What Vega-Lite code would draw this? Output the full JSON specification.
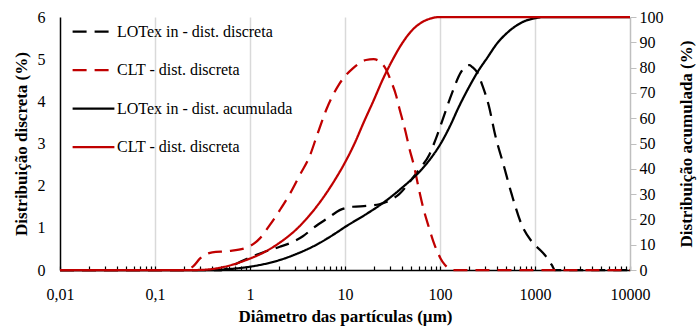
{
  "$schema": "https://vega.github.io/schema/vega-lite/v6.json",
  "width": 570,
  "height": 253,
  "autosize": {"type": "none"},
  "padding": {"left": 60, "top": 17, "right": 67, "bottom": 59},
  "background": "white",
  "config": {
    "view": {"stroke": null},
    "font": "Times New Roman, Liberation Serif, DejaVu Serif, serif",
    "axis": {
      "labelFont": "Times New Roman, Liberation Serif, DejaVu Serif, serif",
      "labelFontSize": 16,
      "labelColor": "black",
      "titleFont": "Times New Roman, Liberation Serif, DejaVu Serif, serif",
      "titleFontSize": 17,
      "titleFontWeight": "bold",
      "titleColor": "black"
    },
    "legend": {
      "labelFont": "Times New Roman, Liberation Serif, DejaVu Serif, serif"
    }
  },
  "datasets": {
    "discreta": [
      {"s": "LOTex in - dist. discreta", "d": 0.01, "v": 0},
      {"s": "LOTex in - dist. discreta", "d": 0.5, "v": 0},
      {"s": "LOTex in - dist. discreta", "d": 0.62, "v": 0.08},
      {"s": "LOTex in - dist. discreta", "d": 0.8, "v": 0.2},
      {"s": "LOTex in - dist. discreta", "d": 1.17, "v": 0.36},
      {"s": "LOTex in - dist. discreta", "d": 1.5, "v": 0.45},
      {"s": "LOTex in - dist. discreta", "d": 2.06, "v": 0.55},
      {"s": "LOTex in - dist. discreta", "d": 2.84, "v": 0.67},
      {"s": "LOTex in - dist. discreta", "d": 3.6, "v": 0.8},
      {"s": "LOTex in - dist. discreta", "d": 4.6, "v": 0.99},
      {"s": "LOTex in - dist. discreta", "d": 6.9, "v": 1.26},
      {"s": "LOTex in - dist. discreta", "d": 8.8, "v": 1.42},
      {"s": "LOTex in - dist. discreta", "d": 12.1, "v": 1.5},
      {"s": "LOTex in - dist. discreta", "d": 17, "v": 1.52},
      {"s": "LOTex in - dist. discreta", "d": 23, "v": 1.56},
      {"s": "LOTex in - dist. discreta", "d": 30, "v": 1.66},
      {"s": "LOTex in - dist. discreta", "d": 37.2, "v": 1.8},
      {"s": "LOTex in - dist. discreta", "d": 51, "v": 2.17},
      {"s": "LOTex in - dist. discreta", "d": 60, "v": 2.38},
      {"s": "LOTex in - dist. discreta", "d": 76.7, "v": 2.72},
      {"s": "LOTex in - dist. discreta", "d": 90, "v": 3.1},
      {"s": "LOTex in - dist. discreta", "d": 106, "v": 3.55},
      {"s": "LOTex in - dist. discreta", "d": 135, "v": 4.22},
      {"s": "LOTex in - dist. discreta", "d": 165, "v": 4.68},
      {"s": "LOTex in - dist. discreta", "d": 186, "v": 4.83},
      {"s": "LOTex in - dist. discreta", "d": 205, "v": 4.86},
      {"s": "LOTex in - dist. discreta", "d": 219, "v": 4.81},
      {"s": "LOTex in - dist. discreta", "d": 247, "v": 4.68},
      {"s": "LOTex in - dist. discreta", "d": 279, "v": 4.38},
      {"s": "LOTex in - dist. discreta", "d": 326, "v": 3.9},
      {"s": "LOTex in - dist. discreta", "d": 381, "v": 3.2},
      {"s": "LOTex in - dist. discreta", "d": 467, "v": 2.49},
      {"s": "LOTex in - dist. discreta", "d": 571, "v": 1.78},
      {"s": "LOTex in - dist. discreta", "d": 725, "v": 1.07},
      {"s": "LOTex in - dist. discreta", "d": 927, "v": 0.67},
      {"s": "LOTex in - dist. discreta", "d": 1175, "v": 0.44},
      {"s": "LOTex in - dist. discreta", "d": 1350, "v": 0.28},
      {"s": "LOTex in - dist. discreta", "d": 1500, "v": 0.12},
      {"s": "LOTex in - dist. discreta", "d": 1625, "v": 0},
      {"s": "LOTex in - dist. discreta", "d": 10000, "v": 0},
      {"s": "CLT - dist. discreta", "d": 0.01, "v": 0},
      {"s": "CLT - dist. discreta", "d": 0.2, "v": 0},
      {"s": "CLT - dist. discreta", "d": 0.25, "v": 0.08},
      {"s": "CLT - dist. discreta", "d": 0.3, "v": 0.28},
      {"s": "CLT - dist. discreta", "d": 0.35, "v": 0.38},
      {"s": "CLT - dist. discreta", "d": 0.4, "v": 0.42},
      {"s": "CLT - dist. discreta", "d": 0.6, "v": 0.45},
      {"s": "CLT - dist. discreta", "d": 0.92, "v": 0.53},
      {"s": "CLT - dist. discreta", "d": 1.27, "v": 0.75},
      {"s": "CLT - dist. discreta", "d": 1.62, "v": 1.07},
      {"s": "CLT - dist. discreta", "d": 2.06, "v": 1.42},
      {"s": "CLT - dist. discreta", "d": 2.62, "v": 1.8},
      {"s": "CLT - dist. discreta", "d": 3.34, "v": 2.25},
      {"s": "CLT - dist. discreta", "d": 4.25, "v": 2.7},
      {"s": "CLT - dist. discreta", "d": 5, "v": 3.15},
      {"s": "CLT - dist. discreta", "d": 6.35, "v": 3.8},
      {"s": "CLT - dist. discreta", "d": 8.76, "v": 4.42},
      {"s": "CLT - dist. discreta", "d": 12.1, "v": 4.78},
      {"s": "CLT - dist. discreta", "d": 16.6, "v": 4.98},
      {"s": "CLT - dist. discreta", "d": 20, "v": 5.0},
      {"s": "CLT - dist. discreta", "d": 23, "v": 4.95},
      {"s": "CLT - dist. discreta", "d": 27, "v": 4.76},
      {"s": "CLT - dist. discreta", "d": 30, "v": 4.52},
      {"s": "CLT - dist. discreta", "d": 34.4, "v": 4.15},
      {"s": "CLT - dist. discreta", "d": 37.2, "v": 3.85},
      {"s": "CLT - dist. discreta", "d": 43.7, "v": 3.25},
      {"s": "CLT - dist. discreta", "d": 47.4, "v": 2.9},
      {"s": "CLT - dist. discreta", "d": 53.5, "v": 2.45},
      {"s": "CLT - dist. discreta", "d": 60.2, "v": 1.9},
      {"s": "CLT - dist. discreta", "d": 67, "v": 1.45},
      {"s": "CLT - dist. discreta", "d": 76.7, "v": 1.0},
      {"s": "CLT - dist. discreta", "d": 85, "v": 0.68},
      {"s": "CLT - dist. discreta", "d": 93.5, "v": 0.44},
      {"s": "CLT - dist. discreta", "d": 101, "v": 0.28},
      {"s": "CLT - dist. discreta", "d": 110, "v": 0.15},
      {"s": "CLT - dist. discreta", "d": 120, "v": 0.06},
      {"s": "CLT - dist. discreta", "d": 135, "v": 0},
      {"s": "CLT - dist. discreta", "d": 10000, "v": 0}
    ],
    "acumulada": [
      {"s": "LOTex in - dist. acumulada", "d": 0.01, "v": 0},
      {"s": "LOTex in - dist. acumulada", "d": 0.5, "v": 0},
      {"s": "LOTex in - dist. acumulada", "d": 0.63, "v": 0.4},
      {"s": "LOTex in - dist. acumulada", "d": 1, "v": 1.3},
      {"s": "LOTex in - dist. acumulada", "d": 2, "v": 3.8},
      {"s": "LOTex in - dist. acumulada", "d": 3.16, "v": 6.5},
      {"s": "LOTex in - dist. acumulada", "d": 5.01, "v": 10},
      {"s": "LOTex in - dist. acumulada", "d": 7.94, "v": 14.5},
      {"s": "LOTex in - dist. acumulada", "d": 10, "v": 17},
      {"s": "LOTex in - dist. acumulada", "d": 15.8, "v": 21.5},
      {"s": "LOTex in - dist. acumulada", "d": 25.1, "v": 26.5},
      {"s": "LOTex in - dist. acumulada", "d": 39.8, "v": 32.5},
      {"s": "LOTex in - dist. acumulada", "d": 63.1, "v": 39.5},
      {"s": "LOTex in - dist. acumulada", "d": 79.4, "v": 44},
      {"s": "LOTex in - dist. acumulada", "d": 100, "v": 49.5},
      {"s": "LOTex in - dist. acumulada", "d": 126, "v": 56.5},
      {"s": "LOTex in - dist. acumulada", "d": 158, "v": 64.5},
      {"s": "LOTex in - dist. acumulada", "d": 200, "v": 72},
      {"s": "LOTex in - dist. acumulada", "d": 251, "v": 78.5},
      {"s": "LOTex in - dist. acumulada", "d": 316, "v": 84},
      {"s": "LOTex in - dist. acumulada", "d": 398, "v": 89.5},
      {"s": "LOTex in - dist. acumulada", "d": 501, "v": 93.5},
      {"s": "LOTex in - dist. acumulada", "d": 631, "v": 96.5},
      {"s": "LOTex in - dist. acumulada", "d": 794, "v": 98.5},
      {"s": "LOTex in - dist. acumulada", "d": 1000, "v": 99.5},
      {"s": "LOTex in - dist. acumulada", "d": 1259, "v": 100},
      {"s": "LOTex in - dist. acumulada", "d": 10000, "v": 100},
      {"s": "CLT - dist. acumulada", "d": 0.01, "v": 0},
      {"s": "CLT - dist. acumulada", "d": 0.28, "v": 0},
      {"s": "CLT - dist. acumulada", "d": 0.5, "v": 1},
      {"s": "CLT - dist. acumulada", "d": 0.92, "v": 4},
      {"s": "CLT - dist. acumulada", "d": 1.49, "v": 7.5},
      {"s": "CLT - dist. acumulada", "d": 2, "v": 10.5},
      {"s": "CLT - dist. acumulada", "d": 3.16, "v": 16.5},
      {"s": "CLT - dist. acumulada", "d": 5.01, "v": 25},
      {"s": "CLT - dist. acumulada", "d": 7.94, "v": 36},
      {"s": "CLT - dist. acumulada", "d": 10, "v": 42.5},
      {"s": "CLT - dist. acumulada", "d": 12.6, "v": 50},
      {"s": "CLT - dist. acumulada", "d": 15.8, "v": 58.5},
      {"s": "CLT - dist. acumulada", "d": 20, "v": 67},
      {"s": "CLT - dist. acumulada", "d": 25.1, "v": 75.5},
      {"s": "CLT - dist. acumulada", "d": 31.6, "v": 83},
      {"s": "CLT - dist. acumulada", "d": 39.8, "v": 89.5},
      {"s": "CLT - dist. acumulada", "d": 50.1, "v": 94.5},
      {"s": "CLT - dist. acumulada", "d": 63.1, "v": 97.7},
      {"s": "CLT - dist. acumulada", "d": 79.4, "v": 99.4},
      {"s": "CLT - dist. acumulada", "d": 100, "v": 100},
      {"s": "CLT - dist. acumulada", "d": 10000, "v": 100}
    ]
  },
  "encoding": {
    "x": {
      "field": "d",
      "type": "quantitative",
      "scale": {"type": "log", "domain": [0.01, 10000], "nice": false},
      "axis": {
        "title": "Diâmetro das partículas (µm)",
        "values": [0.01, 0.02, 0.03, 0.04, 0.05, 0.06, 0.07, 0.08, 0.09, 0.1, 0.2, 0.3, 0.4, 0.5, 0.6, 0.7, 0.8, 0.9, 1, 2, 3, 4, 5, 6, 7, 8, 9, 10, 20, 30, 40, 50, 60, 70, 80, 90, 100, 200, 300, 400, 500, 600, 700, 800, 900, 1000, 2000, 3000, 4000, 5000, 6000, 7000, 8000, 9000, 10000],
        "labelExpr": "abs(log(datum.value)/LN10 - round(log(datum.value)/LN10)) < 0.001 ? replace(format(datum.value, '~g'), '.', ',') : ''",
        "labelOverlap": false,
        "labelFlush": false,
        "labelPadding": 20,
        "grid": true,
        "gridColor": {"condition": {"test": "abs(log(datum.value)/LN10 - round(log(datum.value)/LN10)) < 0.001 && datum.value > 0.011 && datum.value < 9999", "value": "#d9d9d9"}, "value": "rgba(0,0,0,0)"},
        "gridWidth": 1.5,
        "tickSize": -4,
        "tickColor": "black",
        "tickWidth": 1.2,
        "domainColor": "black",
        "domainWidth": 1.5,
        "titlePadding": 6
      }
    }
  },
  "layer": [
    {
      "data": {"name": "discreta"},
      "mark": {"type": "line", "interpolate": "monotone", "strokeWidth": 2.25},
      "encoding": {
        "y": {
          "field": "v",
          "type": "quantitative",
          "scale": {"domain": [0, 6], "nice": false},
          "axis": {
            "title": "Distribuição discreta (%)",
            "orient": "left",
            "values": [0, 1, 2, 3, 4, 5, 6],
            "grid": false,
            "ticks": false,
            "tickSize": 0,
            "labelPadding": 15,
            "domainColor": "black",
            "domainWidth": 1.5,
            "titlePadding": 7
          }
        },
        "color": {
          "field": "s",
          "type": "nominal",
          "scale": {
            "domain": ["LOTex in - dist. discreta", "CLT - dist. discreta", "LOTex in - dist. acumulada", "CLT - dist. acumulada"],
            "range": ["black", "#c00000", "black", "#c00000"]
          },
          "legend": {
            "title": null,
            "orient": "none",
            "legendX": 13,
            "legendY": -6,
            "symbolType": "M-1.1,0H1.1",
            "symbolSize": 1444,
            "symbolStrokeWidth": 2.25,
            "labelFont": "Times New Roman, Liberation Serif, DejaVu Serif, serif",
            "labelFontSize": 16,
            "labelColor": "black",
            "labelOffset": 3,
            "labelLimit": 400,
            "rowPadding": 9.5,
            "padding": 0,
            "labelExpr": "datum.label == 'CLT - dist. acumulada' ? 'CLT - dist. discreta' : datum.label"
          }
        },
        "strokeDash": {
          "field": "s",
          "type": "nominal",
          "scale": {
            "domain": ["LOTex in - dist. discreta", "CLT - dist. discreta", "LOTex in - dist. acumulada", "CLT - dist. acumulada"],
            "range": [[14, 8], [14, 8], [1, 0], [1, 0]]
          },
          "legend": {
            "title": null,
            "orient": "none",
            "legendX": 13,
            "legendY": -6,
            "symbolType": "M-1.1,0H1.1",
            "symbolSize": 1444,
            "symbolStrokeWidth": 2.25,
            "labelFont": "Times New Roman, Liberation Serif, DejaVu Serif, serif",
            "labelFontSize": 16,
            "labelColor": "black",
            "labelOffset": 3,
            "labelLimit": 400,
            "rowPadding": 9.5,
            "padding": 0,
            "labelExpr": "datum.label == 'CLT - dist. acumulada' ? 'CLT - dist. discreta' : datum.label"
          }
        }
      }
    },
    {
      "data": {"name": "acumulada"},
      "mark": {"type": "line", "interpolate": "monotone", "strokeWidth": 2.25},
      "encoding": {
        "y": {
          "field": "v",
          "type": "quantitative",
          "scale": {"domain": [0, 100], "nice": false},
          "axis": {
            "title": "Distribuição acumulada (%)",
            "orient": "right",
            "titleAngle": 270,
            "values": [0, 10, 20, 30, 40, 50, 60, 70, 80, 90, 100],
            "grid": false,
            "tickSize": 6,
            "tickColor": "#bfbfbf",
            "domainColor": "#bfbfbf",
            "domainWidth": 1.5,
            "labelPadding": 3,
            "titlePadding": 32
          }
        },
        "color": {"field": "s", "type": "nominal"},
        "strokeDash": {"field": "s", "type": "nominal"}
      }
    }
  ],
  "resolve": {"scale": {"y": "independent"}}
}
